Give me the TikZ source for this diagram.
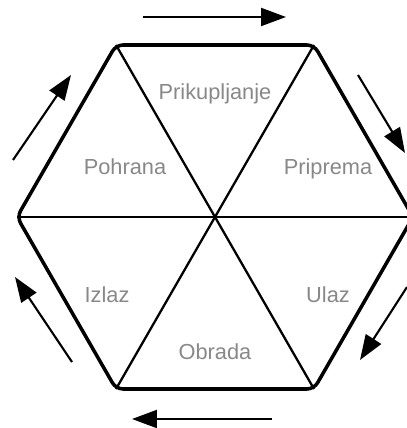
\documentclass[tikz,border=0pt]{standalone}
\usepackage{fontspec}
\setmainfont{Liberation Sans}
\usepackage{tikz}
\usepackage{xcolor}
\usetikzlibrary{arrows.meta}
\definecolor{cInk}{HTML}{000000}
\definecolor{cTxt}{HTML}{888888}
\tikzset{
  rim/.style   ={line width=2pt,cInk,line join=round,rounded corners=4pt},
  spoke/.style ={line width=1.3pt,cInk},
  flow/.style  ={-{Triangle[length=5mm,width=3.6mm]},line width=1.2pt,cInk},
  lbl/.style   ={anchor=base,text=cTxt,inner sep=0pt,font=\fontsize{12.4}{14}\selectfont},
}
\begin{document}
\begin{tikzpicture}[x=0.02cm,y=-0.02cm]
\useasboundingbox (0,0) rectangle (406,428);
% hexagon corners
\coordinate (c)  at (215,217);
\coordinate (r)  at (413,217);
\coordinate (tr) at (314,45);
\coordinate (tl) at (116,45);
\coordinate (l)  at (17,217);
\coordinate (bl) at (116,389);
\coordinate (br) at (314,389);
% spokes
\foreach \v in {r,tr,tl,l,bl,br}
  \draw[spoke] (c) -- (\v);
\draw[rim] (r) -- (tr) -- (tl) -- (l) -- (bl) -- (br) -- cycle;
% phases
\node[lbl] (prik) at (215,100) {Prikupljanje};
\node[lbl] (prip) at (328,175) {Priprema};
\node[lbl] (ulaz) at (328,302) {Ulaz};
\node[lbl] (obr)  at (215,359) {Obrada};
\node[lbl] (izl)  at (107,302) {Izlaz};
\node[lbl] (pohr) at (125,175) {Pohrana};
% cycle arrows
\coordinate (a1) at (143,17);  \coordinate (b1) at (286,17);
\coordinate (a2) at (358,75);  \coordinate (b2) at (405,153);
\coordinate (a3) at (407,287); \coordinate (b3) at (360,360);
\coordinate (a4) at (272,419); \coordinate (b4) at (132,419);
\coordinate (a5) at (72,362);  \coordinate (b5) at (15,277);
\coordinate (a6) at (13,160);  \coordinate (b6) at (71,75);
\foreach \i in {1,...,6}
  \draw[flow] (a\i) -- (b\i);
\end{tikzpicture}
\end{document}
